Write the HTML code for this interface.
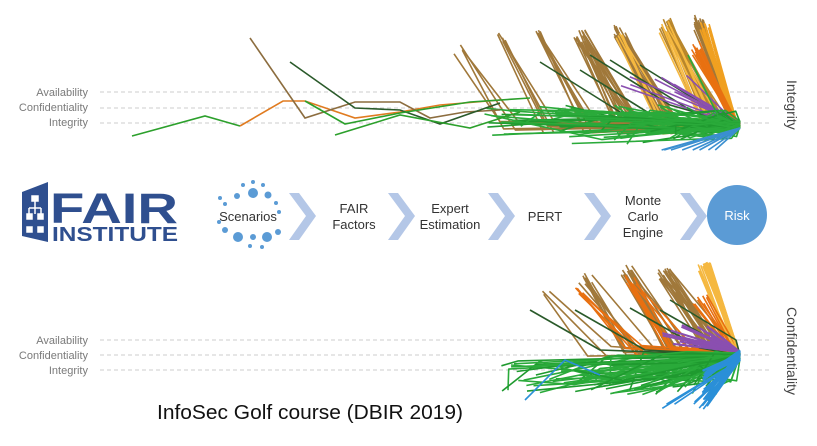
<!DOCTYPE html>
<html><head><meta charset="utf-8"><style>
html,body{margin:0;padding:0;background:#fff;width:817px;height:446px;overflow:hidden;font-family:"Liberation Sans",sans-serif}
</style></head><body>
<svg id="s" width="817" height="446" xmlns="http://www.w3.org/2000/svg" style="position:absolute;left:0;top:0">
<g stroke="#ccc" stroke-dasharray="4,3" stroke-width="1">
<line x1="100" y1="92" x2="770" y2="92"/><line x1="100" y1="108" x2="770" y2="108"/><line x1="100" y1="123" x2="770" y2="123"/>
<line x1="100" y1="340" x2="770" y2="340"/><line x1="100" y1="355" x2="770" y2="355"/><line x1="100" y1="370" x2="770" y2="370"/>
</g>
<g font-size="11" fill="#7a7a7a" text-anchor="end">
<text x="88" y="96">Availability</text><text x="88" y="111">Confidentiality</text><text x="88" y="126">Integrity</text>
<text x="88" y="344">Availability</text><text x="88" y="359">Confidentiality</text><text x="88" y="374">Integrity</text>
</g>
<g font-size="14" fill="#444">
<text transform="translate(787,80) rotate(90)">Integrity</text>
<text transform="translate(787,307) rotate(90)">Confidentiality</text>
</g>
<g id="lines" fill="none" stroke-width="1.6" stroke-linejoin="round"></g>
<g fill="none" stroke-width="1.6">
<polyline stroke="#2ca02c" points="132,136 205,116 240,126"/>
<polyline stroke="#e07b20" points="240,126 283,101 305,101 355,118 400,112 440,105 500,100"/>
<polyline stroke="#8c6d3f" points="250,38 305,118 355,102 400,102 430,118 465,112 500,110"/>
<polyline stroke="#2a5a2a" points="290,62 355,108 400,110 440,124 500,103"/>
<polyline stroke="#2ca02c" points="305,101 345,124 400,113 470,102 530,98"/>
<polyline stroke="#2ca02c" points="335,135 400,115 470,128 520,112"/>
</g>
<g>
<path d="M22,192 L48,182 L48,242 L22,236 Z" fill="#2f4f8f"/>
<g stroke="#fff" stroke-width="1.5" fill="#fff">
<rect x="32" y="196" width="6" height="5"/><rect x="27" y="214" width="5" height="5"/><rect x="38" y="214" width="5" height="5"/>
<line x1="35" y1="201" x2="35" y2="214"/><line x1="29" y1="208" x2="41" y2="208"/><line x1="29" y1="208" x2="29" y2="214"/><line x1="41" y1="208" x2="41" y2="214"/>
<rect x="38" y="227" width="5" height="5"/><rect x="27" y="227" width="5" height="5"/>
</g>
<text x="50" y="223" font-size="43" font-weight="bold" fill="#2f4f8f" textLength="128" lengthAdjust="spacingAndGlyphs">FAIR</text>
<text x="52" y="241" font-size="20" font-weight="bold" fill="#2f4f8f" textLength="126" lengthAdjust="spacingAndGlyphs">INSTITUTE</text>
</g>
<g fill="#5b9bd5">
<circle cx="253" cy="193" r="5"/><circle cx="237" cy="196" r="3"/><circle cx="268" cy="195" r="3.5"/><circle cx="225" cy="204" r="2"/><circle cx="276" cy="203" r="2"/><circle cx="253" cy="182" r="2"/><circle cx="243" cy="185" r="2"/><circle cx="263" cy="185" r="2"/><circle cx="279" cy="212" r="2"/><circle cx="219" cy="222" r="2"/>
<circle cx="225" cy="230" r="3"/><circle cx="238" cy="237" r="5"/><circle cx="253" cy="237" r="3"/><circle cx="267" cy="237" r="5"/><circle cx="278" cy="232" r="3"/><circle cx="250" cy="246" r="2"/><circle cx="262" cy="247" r="2"/><circle cx="220" cy="198" r="2"/>
</g>
<text x="248" y="221" font-size="13" fill="#333" text-anchor="middle">Scenarios</text>
<g fill="#b4c7e7">
<path d="M289,193 L299,193 L316,216 L299,240 L289,240 L306,216 Z"/>
<path d="M388,193 L398,193 L415,216 L398,240 L388,240 L405,216 Z"/>
<path d="M488,193 L498,193 L515,216 L498,240 L488,240 L505,216 Z"/>
<path d="M584,193 L594,193 L611,216 L594,240 L584,240 L601,216 Z"/>
<path d="M680,193 L690,193 L707,216 L690,240 L680,240 L697,216 Z"/>
</g>
<g font-size="13" fill="#333" text-anchor="middle">
<text x="354" y="213">FAIR</text><text x="354" y="229">Factors</text>
<text x="450" y="213">Expert</text><text x="450" y="229">Estimation</text>
<text x="545" y="221">PERT</text>
<text x="643" y="205">Monte</text><text x="643" y="221">Carlo</text><text x="643" y="237">Engine</text>
</g>
<circle cx="737" cy="215" r="30" fill="#5b9bd5"/>
<text x="737" y="220" font-size="13" fill="#fff" text-anchor="middle">Risk</text>
<text x="157" y="419" font-size="20" fill="#111" textLength="306" lengthAdjust="spacingAndGlyphs">InfoSec Golf course (DBIR 2019)</text>
</svg>
<script>
(function(){
var seed=7;function r(){seed=(seed*16807)%2147483647;return (seed-1)/2147483646;}
var g=document.getElementById('lines');var out='';
function pl(c,pts,w){out+='<polyline stroke="'+c+'" stroke-width="'+(w||1.6)+'" points="'+pts.map(function(p){return p[0].toFixed(1)+','+p[1].toFixed(1)}).join(' ')+'"/>';}
function cl(x){return Math.min(x,736);}
var T=[[460,40,4,'#a0783a'],[500,28,5,'#a0783a'],[540,25,6,'#a0783a'],[580,28,20,'#a0783a'],[620,25,20,'#a0783a'],[665,18,22,'#b8862c'],[700,15,20,'#a0783a'],[705,20,12,'#f0a020'],[695,40,14,'#e87010'],[665,20,8,'#f5b840'],[620,25,5,'#f5b840']];
T.forEach(function(t){for(var i=0;i<t[2];i++){var px=t[0]+(r()-.5)*12,py=t[1]+r()*15;var bx=cl(px+40+r()*20),by=118+r()*16;pl(t[3],[[px,py],[bx,by],[740,125+(r()-.5)*6]]);}});
var dk=[[540,62],[580,70],[610,60],[640,65],[590,55]];dk.forEach(function(d){pl('#2a5a2a',[[d[0],d[1]],[cl(d[0]+80),d[1]+50],[740,125]]);});
for(var i=0;i<10;i++)pl('#8a4fb0',[[620+r()*80,75+r()*20],[740,123+r()*4]]);
for(var i=0;i<70;i++){var sx=480+r()*220,sy=105+r()*40;var mx=sx+(740-sx)*r(),my=110+r()*30;pl(i%4?'#2aaa3a':'#1f9a2f',[[sx,sy],[mx,my],[740,125+(r()-.5)*8]]);}
for(var i=0;i<8;i++)pl('#3a8fd0',[[600+r()*120,150],[740,128]]);
pl('#2aaa3a',[[688,55],[720,120]]);
var B=[[545,283,3,'#a0783a'],[585,272,10,'#a0783a'],[625,265,16,'#a0783a'],[665,268,18,'#a0783a'],[705,262,14,'#f5b840'],[700,292,8,'#e87010'],[630,275,8,'#e87010'],[580,285,6,'#e87010']];
B.forEach(function(t){for(var i=0;i<t[2];i++){var px=t[0]+(r()-.5)*14,py=t[1]+r()*12;var bx=cl(px+40+r()*25),by=345+r()*15;pl(t[3],[[px,py],[bx,by],[740,355+(r()-.5)*6]]);}});
for(var i=0;i<25;i++)pl('#f5b840',[[703+r()*8,262+r()*5],[738,350]],2);
[[530,310],[575,310],[630,308],[660,310],[670,300]].forEach(function(d){pl('#2a5a2a',[[d[0],d[1]],[cl(d[0]+70),d[1]+40],[740,355]]);});
for(var i=0;i<25;i++)pl('#8a4fb0',[[660+r()*60,325+r()*20],[740,352]],2);
for(var i=0;i<80;i++){var sx=500+r()*220,sy=360+r()*35;var mx=sx+(740-sx)*r(),my=350+r()*35;pl(i%3?'#2aaa3a':'#1f9a2f',[[sx,sy],[mx,my],[740,356+(r()-.5)*6]]);}
for(var i=0;i<30;i++)pl('#2a8fd8',[[702+r()*6,370+r()*35],[740,350+r()*10]],2);
for(var i=0;i<10;i++)pl('#2a8fd8',[[660+r()*50,400+r()*10],[740,360]]);
pl('#2a8fd8',[[525,400],[565,360],[600,375]]);
g.innerHTML=out;
})();
</script>
</body></html>
